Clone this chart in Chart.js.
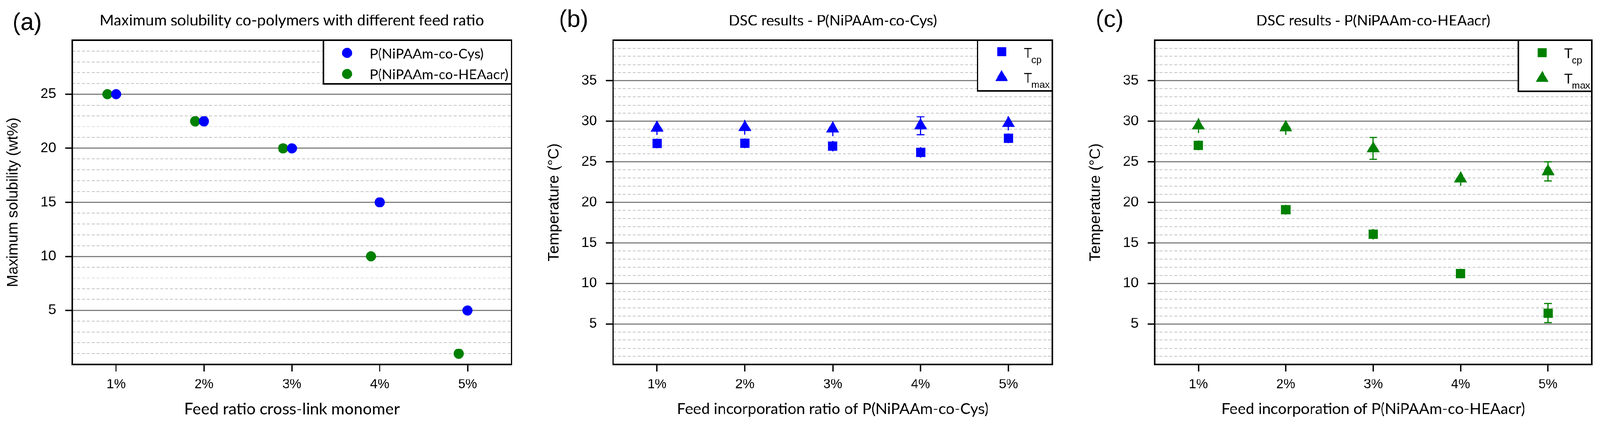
<!DOCTYPE html>
<html lang="en">
<head>
<meta charset="UTF-8" />
<title>Solubility and DSC results</title>
<script src="https://cdn.jsdelivr.net/npm/chart.js@4"></script>
<style>
  * { margin: 0; padding: 0; box-sizing: border-box; }
  html, body { background: #fff; overflow: hidden; }
  #stage { position: absolute; left: 0; top: 0; width: 4254px; height: 1125px; transform-origin: 0 0; }
  canvas { position: absolute; top: 0; }
  #chartA { left: 0; }
  #chartB { left: 1438px; }
  #chartC { left: 2878px; }
</style>
</head>
<body>
<div id="stage">
  <canvas id="chartA" width="1438" height="1125"></canvas>
  <canvas id="chartB" width="1438" height="1125"></canvas>
  <canvas id="chartC" width="1376" height="1125"></canvas>
</div>

<script>
  // fit the 4254x1125 figure into whatever the window really is
  const fit = Math.min(window.innerWidth / 4254, window.innerHeight / 1125);
  document.getElementById('stage').style.transform = 'scale(' + fit + ')';

  // categories on the x axis
  const feedLabels = ['1%', '2%', '3%', '4%', '5%'];
  const feedPos = [1, 2, 3, 4, 5];
  const feedPosShifted = [0.9, 1.9, 2.9, 3.9, 4.9];

  // (a) maximum solubility, wt%
  const solubilityCys = [25, 22.5, 20, 15, 5];
  const solubilityHEA = [25, 22.5, 20, 10, 1];
  const solubilityTicks = [5, 10, 15, 20, 25];

  // (b) DSC, P(NiPAAm-co-Cys), degC
  const cysTcp = [27.25, 27.27, 26.93, 26.14, 27.91];
  const cysTcpErr = [0.6, 0.6, 0.65, 0.65, 0.6];
  const cysTmax = [29.18, 29.26, 29.08, 29.45, 29.75];
  const cysTmaxErr = [0.85, 0.9, 0.9, 1.1, 0.88];

  // (c) DSC, P(NiPAAm-co-HEAacr), degC
  const heaTcp = [27.02, 19.1, 16.05, 11.19, 6.34];
  const heaTcpErr = [0.6, 0.6, 0.65, 0.6, 1.18];
  const heaTmax = [29.46, 29.22, 26.64, 22.92, 23.81];
  const heaTmaxErr = [0.9, 0.88, 1.34, 0.86, 1.18];
  const tempTicks = [5, 10, 15, 20, 25, 30, 35];

  // legend texts
  const polymerNames = ['P(NiPAAm-co-Cys)', 'P(NiPAAm-co-HEAacr)'];
  const tempNames = [['T', 'cp'], ['T', 'max']];

  const BLUE = '#0000ff';
  const GREEN = '#008000';
  const SANS = "'Liberation Sans', Arial, sans-serif";
  const SOFT = "Lato, 'Open Sans', sans-serif";

  const pts = (xs, ys) => xs.map((x, i) => ({ x: x, y: ys[i] }));

  // error bars drawn under the markers; the small ones show no caps in the original
  const errorBars = {
    id: 'errorBars',
    beforeDatasetsDraw(chart) {
      const { ctx, scales: { x, y } } = chart;
      chart.data.datasets.forEach(ds => {
        if (!ds.errors) return;
        ctx.save();
        ctx.strokeStyle = ds.backgroundColor;
        ctx.lineWidth = 3;
        ds.data.forEach((p, i) => {
          const e = ds.errors[i];
          const px = x.getPixelForValue(p.x);
          const top = y.getPixelForValue(p.y + e);
          const bot = y.getPixelForValue(p.y - e);
          ctx.beginPath();
          ctx.moveTo(px, top); ctx.lineTo(px, bot);
          if (e >= 1) {
            ctx.moveTo(px - 10, top); ctx.lineTo(px + 10, top);
            ctx.moveTo(px - 10, bot); ctx.lineTo(px + 10, bot);
          }
          ctx.stroke();
        });
        ctx.restore();
      });
    }
  };

  function marker(ctx, style, r, x, y) {
    if (Chart.helpers && Chart.helpers.drawPoint) {
      Chart.helpers.drawPoint(ctx, { pointStyle: style, radius: r, borderWidth: 0, rotation: 0 }, x, y);
      return;
    }
    ctx.beginPath();
    if (style === 'circle') ctx.arc(x, y, r, 0, Math.PI * 2);
    else if (style === 'rect') { const s = r * Math.SQRT1_2; ctx.rect(x - s, y - s, 2 * s, 2 * s); }
    else { ctx.moveTo(x, y - r); ctx.lineTo(x + r * 0.866, y + r / 2); ctx.lineTo(x - r * 0.866, y + r / 2); ctx.closePath(); }
    ctx.fill();
  }

  // frame, legend box and panel letter
  const panelDecor = {
    id: 'panelDecor',
    afterDraw(chart, args, o) {
      const { ctx, chartArea: ca } = chart;
      ctx.save();
      ctx.lineWidth = 4;
      ctx.strokeStyle = '#000';
      ctx.strokeRect(ca.left, ca.top, ca.right - ca.left, ca.bottom - ca.top);

      const lx = ca.right - o.boxW;
      ctx.fillStyle = '#fff';
      ctx.fillRect(lx, ca.top, o.boxW, o.boxH);
      ctx.strokeRect(lx, ca.top, o.boxW, o.boxH);

      chart.data.datasets.forEach((ds, i) => {
        ctx.fillStyle = ds.backgroundColor;
        marker(ctx, ds.pointStyle, o.legendRadius[i], ca.right - o.markerDx, ca.top + o.markerY[i]);
        ctx.fillStyle = '#000';
        ctx.textAlign = 'left';
        const tx = ca.right - o.textDx;
        const name = o.names[i];
        if (Array.isArray(name)) {
          ctx.textBaseline = 'alphabetic';
          ctx.font = '36px ' + SANS;
          ctx.fillText(name[0], tx, ca.top + o.textY[i]);
          ctx.font = '26px ' + SANS;
          ctx.fillText(name[1], tx + 20, ca.top + o.textY[i] + 14);
        } else {
          ctx.textBaseline = 'middle';
          ctx.font = '37px ' + SOFT;
          ctx.fillText(name, tx, ca.top + o.textY[i]);
        }
      });

      ctx.fillStyle = '#000';
      ctx.textAlign = 'left';
      ctx.textBaseline = 'alphabetic';
      ctx.font = '64px ' + SANS;
      ctx.fillText(o.letter, o.letterX, o.letterY);
      ctx.restore();
    }
  };

  function panel(id, p) {
    return new Chart(document.getElementById(id), {
      type: 'scatter',
      data: { datasets: p.datasets },
      plugins: [errorBars, panelDecor],
      options: {
        responsive: false,
        animation: false,
        layout: { padding: { left: 0, right: p.padRight, top: 0, bottom: 0 } },
        plugins: {
          legend: { display: false },
          tooltip: { enabled: false },
          title: {
            display: true, text: p.title, fullSize: false, color: '#000',
            font: { family: SOFT, size: p.titleSize, weight: 'normal' },
            padding: { top: 55 - p.titleSize * 0.6, bottom: 52 - p.titleSize * 0.6 }
          },
          panelDecor: p.decor
        },
        scales: {
          x: {
            type: 'linear', min: 0.5, max: 5.5,
            afterBuildTicks: s => { s.ticks = feedPos.map(v => ({ value: v })); },
            afterFit: s => { s.height = 155; },
            ticks: {
              autoSkip: false, maxRotation: 0, padding: 13, color: '#000',
              font: { family: SANS, size: 35 },
              callback: (v, i) => feedLabels[i]
            },
            grid: { drawOnChartArea: false, tickColor: '#000', tickWidth: 3.5, tickLength: 19 },
            border: { display: false },
            title: {
              display: true, text: p.xTitle, color: '#000',
              font: { family: SOFT, size: p.xTitleSize },
              padding: { top: 0, bottom: 36 - p.xTitleSize * 0.6 }
            }
          },
          y: {
            type: 'linear', min: 0, max: p.yMax,
            afterFit: s => { s.width = 192; },
            ticks: {
              stepSize: 1, autoSkip: false, padding: 24, color: '#000',
              font: { family: SANS, size: 37 },
              callback: v => p.yTicks.includes(v) ? String(v) : ''
            },
            grid: {
              color: c => c.tick && c.tick.value % 5 === 0 ? '#808080' : '#c4c4c4',
              lineWidth: c => c.tick && c.tick.value % 5 === 0 ? 3 : 2,
              tickColor: c => c.tick && p.yTicks.includes(c.tick.value) ? '#000' : 'rgba(0,0,0,0)',
              tickWidth: 3.5,
              tickLength: 19
            },
            border: { display: false, dash: c => c.tick && c.tick.value % 5 !== 0 ? [8, 5] : [] },
            title: {
              display: true, text: p.yTitle, color: '#000',
              font: { family: SANS, size: p.yTitleSize },
              padding: { top: 36 - p.yTitleSize * 0.6, bottom: 0 }
            }
          }
        }
      }
    });
  }

  // (a)
  panel('chartA', {
    title: 'Maximum solubility co-polymers with different feed ratio',
    titleSize: 41,
    xTitle: 'Feed ratio cross-link monomer',
    xTitleSize: 43,
    yTitle: 'Maximum solubility (wt%)',
    yTitleSize: 40,
    yMax: 30,
    yTicks: solubilityTicks,
    padRight: 78,
    datasets: [
      { label: polymerNames[0], data: pts(feedPos, solubilityCys), pointStyle: 'circle',
        backgroundColor: BLUE, borderColor: BLUE, pointRadius: 13.5, pointHoverRadius: 13.5, pointBorderWidth: 0 },
      { label: polymerNames[1], data: pts(feedPosShifted, solubilityHEA), pointStyle: 'circle',
        backgroundColor: GREEN, borderColor: GREEN, pointRadius: 13.5, pointHoverRadius: 13.5, pointBorderWidth: 0 }
    ],
    decor: {
      letter: '(a)', letterX: 33, letterY: 80,
      names: polymerNames, legendRadius: [13.5, 13.5],
      boxW: 500, boxH: 116, markerDx: 437, textDx: 377,
      markerY: [34, 90], textY: [37, 92]
    }
  });

  // (b)
  panel('chartB', {
    title: 'DSC results - P(NiPAAm-co-Cys)',
    titleSize: 39,
    xTitle: 'Feed incorporation ratio of P(NiPAAm-co-Cys)',
    xTitleSize: 41,
    yTitle: 'Temperature (°C)',
    yTitleSize: 41,
    yMax: 40,
    yTicks: tempTicks,
    padRight: 78,
    datasets: [
      { label: 'Tcp', data: pts(feedPos, cysTcp), errors: cysTcpErr, pointStyle: 'rect',
        backgroundColor: BLUE, borderColor: BLUE, pointRadius: 17.5, pointHoverRadius: 17.5, pointBorderWidth: 0 },
      { label: 'Tmax', data: pts(feedPos, cysTmax), errors: cysTmaxErr, pointStyle: 'triangle',
        backgroundColor: BLUE, borderColor: BLUE, pointRadius: 20, pointHoverRadius: 20, pointBorderWidth: 0 }
    ],
    decor: {
      letter: '(b)', letterX: 48, letterY: 72,
      names: tempNames, legendRadius: [17, 19.5],
      boxW: 199, boxH: 135, markerDx: 135, textDx: 76,
      markerY: [31, 99], textY: [47, 113]
    }
  });

  // (c)
  panel('chartC', {
    title: 'DSC results - P(NiPAAm-co-HEAacr)',
    titleSize: 39,
    xTitle: 'Feed incorporation of P(NiPAAm-co-HEAacr)',
    xTitleSize: 41,
    yTitle: 'Temperature (°C)',
    yTitleSize: 41,
    yMax: 40,
    yTicks: tempTicks,
    padRight: 22,
    datasets: [
      { label: 'Tcp', data: pts(feedPos, heaTcp), errors: heaTcpErr, pointStyle: 'rect',
        backgroundColor: GREEN, borderColor: GREEN, pointRadius: 17.5, pointHoverRadius: 17.5, pointBorderWidth: 0 },
      { label: 'Tmax', data: pts(feedPos, heaTmax), errors: heaTmaxErr, pointStyle: 'triangle',
        backgroundColor: GREEN, borderColor: GREEN, pointRadius: 20, pointHoverRadius: 20, pointBorderWidth: 0 }
    ],
    decor: {
      letter: '(c)', letterX: 35, letterY: 72,
      names: tempNames, legendRadius: [17, 19.5],
      boxW: 195, boxH: 136, markerDx: 131.5, textDx: 73,
      markerY: [33.5, 101], textY: [48, 114.5]
    }
  });
</script>
</body>
</html>
